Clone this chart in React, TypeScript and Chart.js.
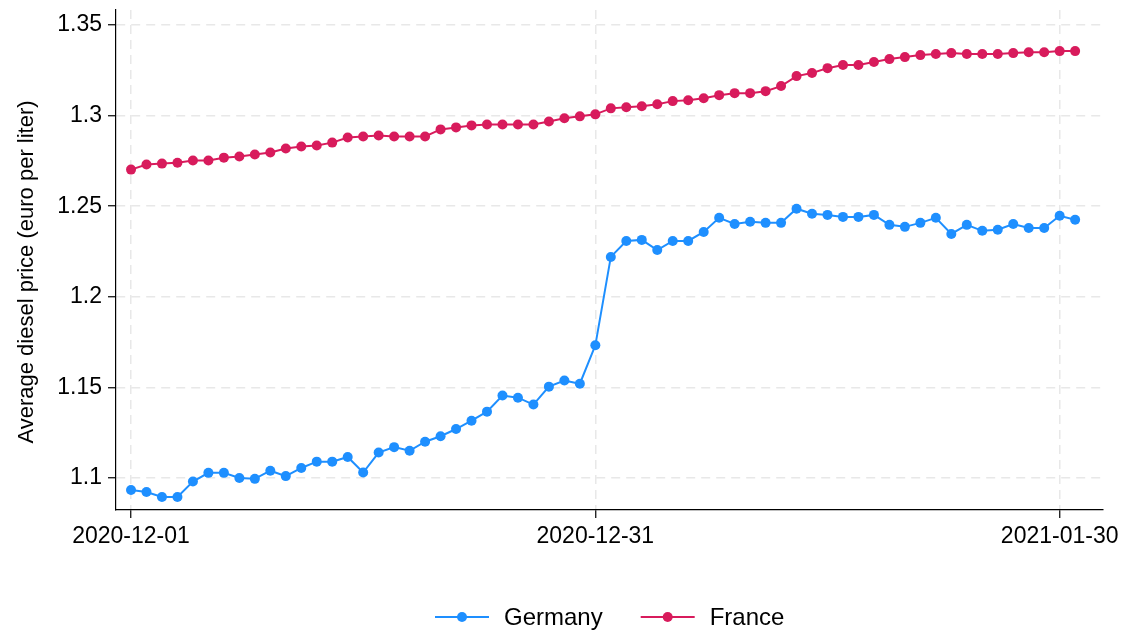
import React, { useEffect, useRef } from "react";
import { Chart, registerables } from "chart.js";

Chart.register(...registerables);

const germany = [
  1.0933, 1.0922, 1.0895, 1.0895, 1.098, 1.1028, 1.1028, 1.1, 1.0995, 1.104,
  1.101, 1.1055, 1.109, 1.109, 1.1116, 1.103, 1.114, 1.117, 1.115, 1.12,
  1.123, 1.127, 1.1316, 1.1366, 1.1455, 1.1443, 1.1405, 1.1504, 1.1538, 1.152,
  1.1732, 1.222, 1.2308, 1.2314, 1.2258, 1.2308, 1.2308, 1.2358, 1.2436, 1.2402,
  1.2414, 1.2408, 1.2408, 1.2486, 1.2458, 1.2452, 1.2441, 1.2441, 1.2452, 1.2397,
  1.2386, 1.2408, 1.2436, 1.2347, 1.2397, 1.2364, 1.237, 1.2402, 1.238, 1.238,
  1.2447, 1.2425,
];

const france = [
  1.2702, 1.273, 1.2735, 1.274, 1.2752, 1.2752, 1.2768, 1.2774, 1.2785, 1.2796,
  1.2818, 1.283, 1.2835, 1.2851, 1.2879, 1.2885, 1.289, 1.2885, 1.2885, 1.2885,
  1.2924, 1.2935, 1.2946, 1.2951, 1.2951, 1.2951, 1.2951, 1.2968, 1.2985, 1.2996,
  1.3007, 1.304, 1.3046, 1.3052, 1.3063, 1.308, 1.3085, 1.3096, 1.3113, 1.3124,
  1.3124, 1.3135, 1.3163, 1.3218, 1.3235, 1.3262, 1.3279, 1.3279, 1.3296, 1.3312,
  1.3323, 1.3334, 1.334, 1.3345, 1.334, 1.334, 1.334, 1.3345, 1.335, 1.335,
  1.3356, 1.3356,
];

const xTickDays = [0, 30, 60];
const xTickLabels = ["2020-12-01", "2020-12-31", "2021-01-30"];
const yTicks = [1.1, 1.15, 1.2, 1.25, 1.3, 1.35];
const yTickLabels = ["1.1", "1.15", "1.2", "1.25", "1.3", "1.35"];
const yTitle = "Average diesel price (euro per liter)";

const FONT = "'Liberation Sans', Arial, sans-serif";
const BLUE = "#1E8FFF";
const RED = "#D81B5C";

const legendPlugin = {
  id: "customLegend",
  afterDraw(chart: any) {
    const ctx = chart.ctx;
    const items = chart.data.datasets.map((d: any) => ({
      label: d.label,
      color: d.borderColor,
    }));
    ctx.save();
    ctx.font = `24px ${FONT}`;
    const lineLen = 54;
    const textGap = 15;
    const itemGap = 38;
    let x = 435;
    const y = 617;
    items.forEach((it: any) => {
      ctx.strokeStyle = it.color;
      ctx.lineWidth = 2;
      ctx.beginPath();
      ctx.moveTo(x, y);
      ctx.lineTo(x + lineLen, y);
      ctx.stroke();
      ctx.fillStyle = it.color;
      ctx.beginPath();
      ctx.arc(x + lineLen / 2, y, 5, 0, Math.PI * 2);
      ctx.fill();
      ctx.fillStyle = "#000";
      ctx.textAlign = "left";
      ctx.textBaseline = "middle";
      ctx.fillText(it.label, x + lineLen + textGap, y + 1);
      x += lineLen + textGap + ctx.measureText(it.label).width + itemGap;
    });
    // y axis title
    ctx.translate(27, 272);
    ctx.rotate(-Math.PI / 2);
    ctx.font = `22px ${FONT}`;
    ctx.textAlign = "center";
    ctx.textBaseline = "middle";
    ctx.fillStyle = "#000";
    ctx.fillText(yTitle, 0, 0);
    ctx.restore();
  },
};

export default function App() {
  const ref = useRef<HTMLCanvasElement | null>(null);

  useEffect(() => {
    document.body.style.margin = "0";
    if (!ref.current) return;
    const mk = (arr: number[]) => arr.map((v, i) => ({ x: i, y: v }));
    const ds = (label: string, arr: number[], color: string) => ({
      label,
      data: mk(arr),
      borderColor: color,
      backgroundColor: color,
      borderWidth: 2,
      pointRadius: 5,
      pointBorderWidth: 0,
      pointBackgroundColor: color,
      tension: 0,
    });
    const gridOpts = {
      color: "#e8e8e8",
      lineWidth: 1.5,
      drawTicks: true,
      tickLength: 8,
      tickColor: "#000",
      tickWidth: 1.2,
    };
    const chart = new Chart(ref.current, {
      type: "line",
      data: {
        datasets: [ds("Germany", germany, BLUE), ds("France", france, RED)],
      },
      options: {
        animation: false,
        responsive: false,
        devicePixelRatio: 1,
        layout: { padding: { left: 0, right: 21, top: 10, bottom: 60 } },
        plugins: {
          legend: { display: false },
          tooltip: { enabled: false },
        },
        scales: {
          x: {
            type: "linear",
            min: -0.97,
            max: 62.8,
            afterBuildTicks: (scale: any) => {
              scale.ticks = xTickDays.map((v) => ({ value: v }));
            },
            afterFit: (scale: any) => {
              scale.height = 60;
              scale.paddingLeft = 0;
              scale.paddingRight = 0;
            },
            ticks: {
              autoSkip: false,
              maxRotation: 0,
              padding: 5,
              color: "#000",
              font: { family: FONT, size: 23 },
              callback: (v: any) => {
                const idx = xTickDays.indexOf(Number(v));
                return idx >= 0 ? xTickLabels[idx] : "";
              },
            },
            grid: gridOpts,
            border: { display: true, color: "#000", width: 1.2, dash: [9, 6] },
          },
          y: {
            type: "linear",
            min: 1.0823,
            max: 1.3583,
            afterBuildTicks: (scale: any) => {
              scale.ticks = yTicks.map((v) => ({ value: v }));
            },
            afterFit: (scale: any) => {
              scale.width = 116;
              scale.paddingTop = 0;
              scale.paddingBottom = 0;
            },
            ticks: {
              padding: 6,
              color: "#000",
              font: { family: FONT, size: 23 },
              callback: (v: any) => {
                const idx = yTicks.findIndex((t) => Math.abs(t - Number(v)) < 1e-6);
                return idx >= 0 ? yTickLabels[idx] : "";
              },
            },
            grid: gridOpts,
            border: { display: true, color: "#000", width: 1.2, dash: [9, 6] },
          },
        },
      },
      plugins: [legendPlugin],
    });
    return () => chart.destroy();
  }, []);

  return (
    <div style={{ width: 1124, height: 630 }}>
      <canvas ref={ref} width={1124} height={630} style={{ display: "block" }} />
    </div>
  );
}
